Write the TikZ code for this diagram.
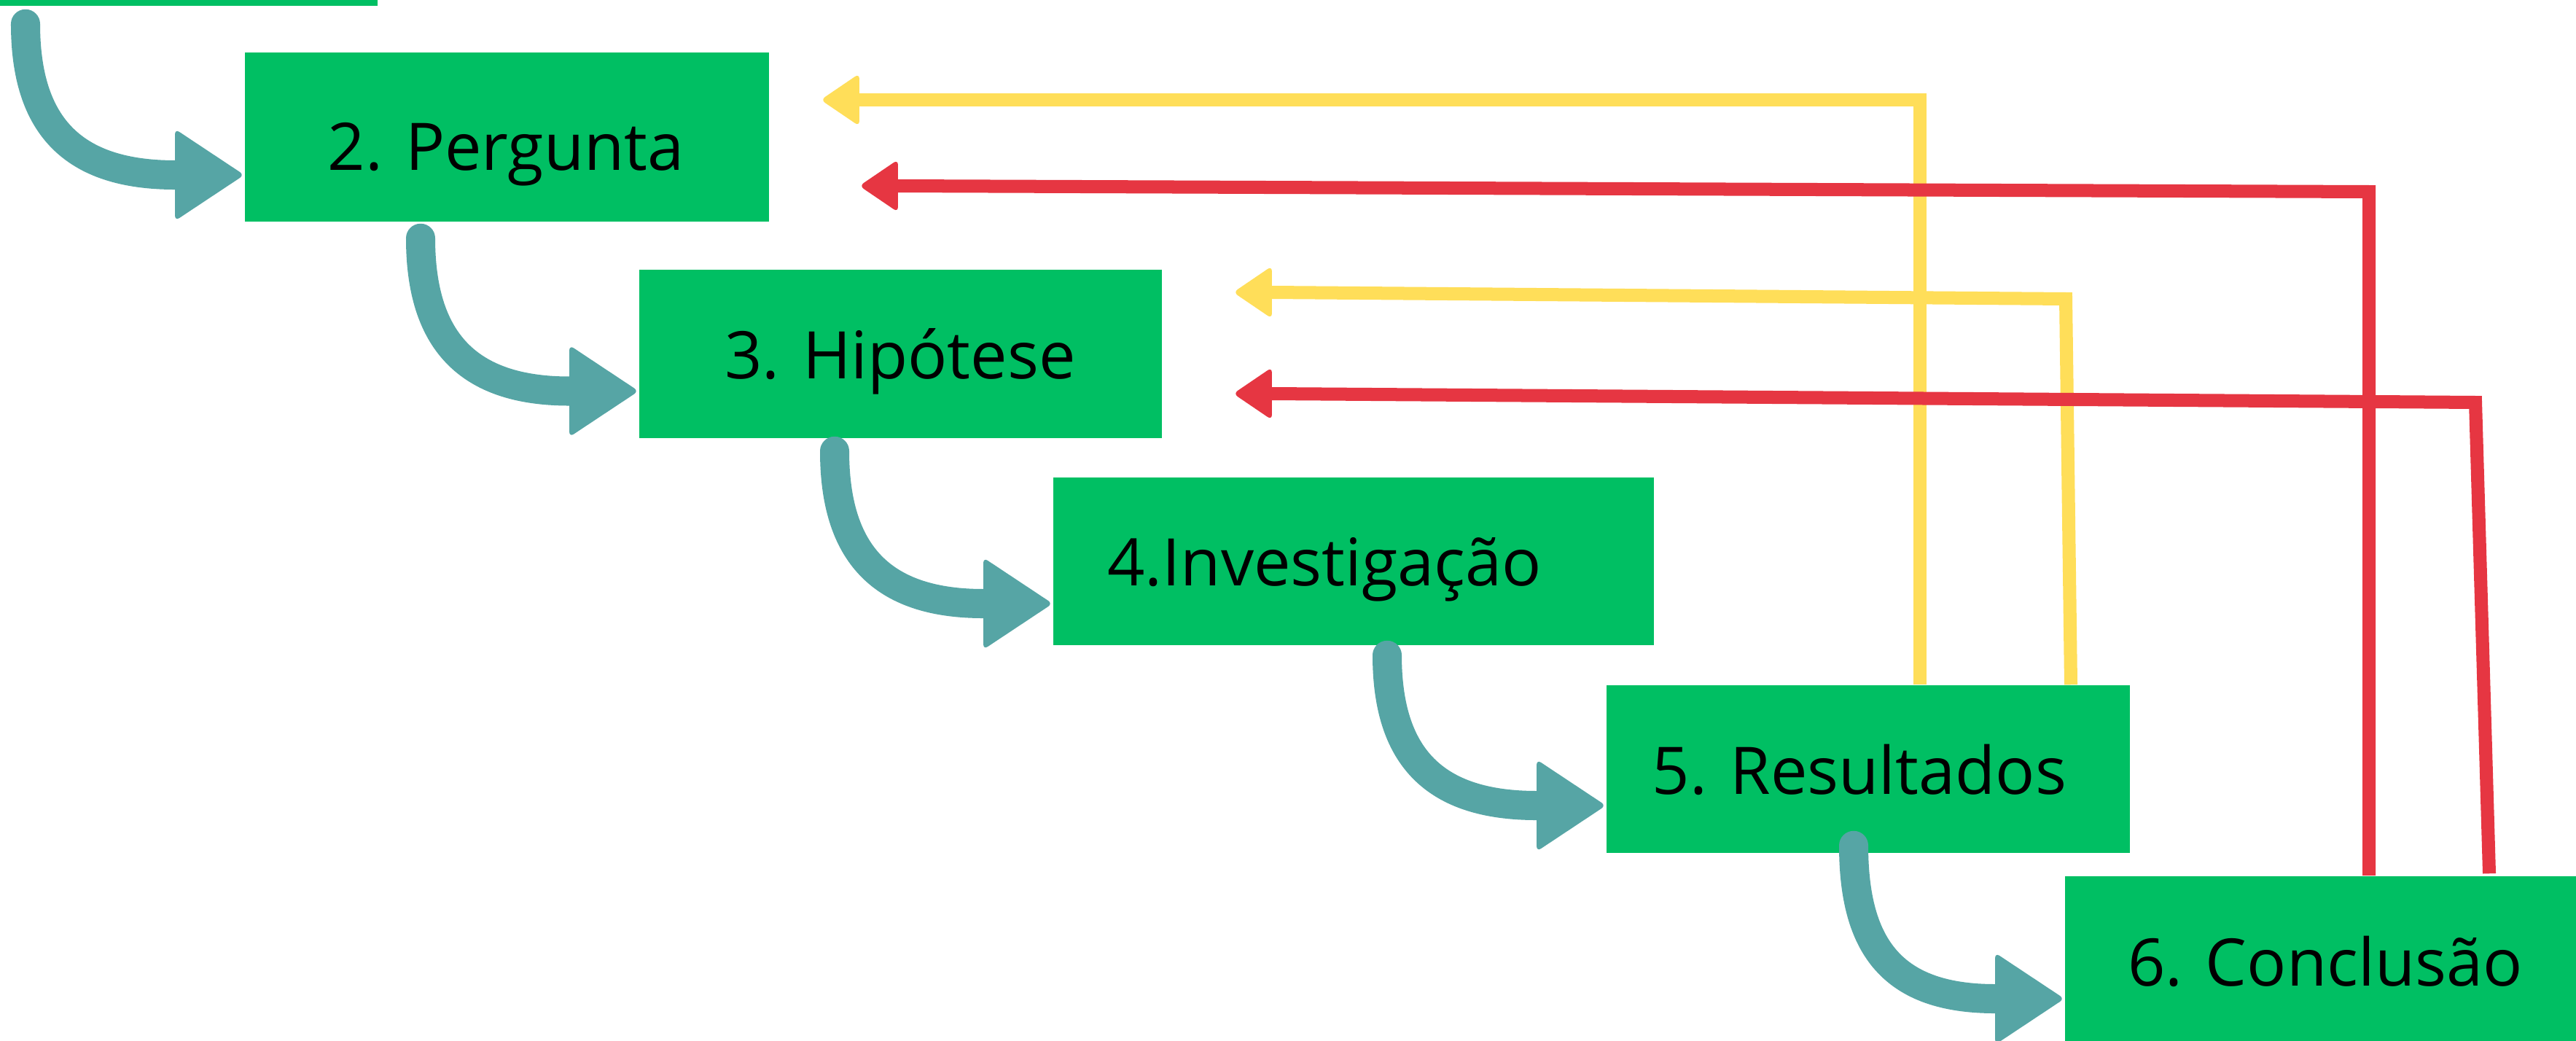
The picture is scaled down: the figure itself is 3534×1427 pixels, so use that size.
\documentclass[tikz,border=0pt]{standalone}
\usepackage{fontspec}
\setmainfont{Open Sans}
\usetikzlibrary{calc}
\definecolor{boxgreen}{HTML}{00BF63}
\definecolor{arrowteal}{HTML}{56A5A5}
\definecolor{fbyellow}{HTML}{FFDE59}
\definecolor{fbred}{HTML}{E63642}
% #1 colour, #2 tip coordinate, #3 signed x offset of the base, #4 half height
\newcommand{\headshape}[4]{\fill[#1, rounded corners=0.07cm] ($(#2)+(#3,-#4)$) -- (#2) -- ($(#2)+(#3,#4)$) -- cycle;}
\begin{document}
\begin{tikzpicture}[x=0.01cm, y=-0.01cm,
  box/.style={rectangle, fill=boxgreen, draw=none, inner sep=0pt},
  lbl/.style={anchor=base, inner sep=0pt, font=\fontsize{25.6pt}{30pt}\selectfont},
  shaft/.style={draw=arrowteal, line width=0.4cm, line cap=round},
  yelline/.style={draw=fbyellow, line width=0.18cm, line join=miter},
  redline/.style={draw=fbred, line width=0.18cm, line join=miter}]
\useasboundingbox (0,0) rectangle (3534,1427);
\fill[white] (0,0) rectangle (3534,1427);
\clip (0,0) rectangle (3534,1427);

% boxes
\node[box, minimum width=7.18cm, minimum height=2.30cm] (b1) at (159,-107) {};
\node[box, minimum width=7.19cm, minimum height=2.32cm] (b2) at (695.5,188) {};
\node[box, minimum width=7.17cm, minimum height=2.31cm] (b3) at (1235.5,485.5) {};
\node[box, minimum width=8.24cm, minimum height=2.30cm] (b4) at (1857,770) {};
\node[box, minimum width=7.18cm, minimum height=2.30cm] (b5) at (2563,1055) {};
\node[box, minimum width=7.18cm, minimum height=2.30cm] (b6) at (3192,1317) {};

% labels
\node[lbl] (t2) at (694,233) {2. Pergunta};
\node[lbl] (t3) at (1235,519) {3. Hipótese};
\node[lbl] (t4) at (1817,803) {4.Investigação};
\node[lbl] (t5) at (2551,1089) {5. Resultados};
\node[lbl] (t6) at (3190,1352) {6. Conclusão};

% teal step arrows
\coordinate (s1) at ($(b1.south)+(-124,24)$);
\coordinate (s2) at ($(b2.south)+(-118.5,22)$);
\coordinate (s3) at ($(b3.south)+(-90.5,17)$);
\coordinate (s4) at ($(b4.south)+(46,13)$);
\coordinate (s5) at ($(b5.south)+(-20,-11)$);
\coordinate (p1) at ($(b2.west)+(0,52)$);
\coordinate (p2) at ($(b3.west)+(0,51)$);
\coordinate (p3) at ($(b4.west)+(0,58)$);
\coordinate (p4) at ($(b5.west)+(0,50)$);
\coordinate (p5) at ($(b6.west)+(0,53)$);
\foreach \s/\p in {s1/p1, s2/p2, s3/p3, s4/p4, s5/p5} {
  \draw[shaft] (\s) .. controls +(0,140) and +(-140,0) .. ($(\p)+(-95,0)$);
  \headshape{arrowteal}{\p}{-95}{63}
}

% feedback lines, yellow
\coordinate (y1s) at ($(b5.north)+(71,0)$);
\coordinate (y1t) at ($(b2.east)+(70,-51)$);
\coordinate (y2s) at ($(b5.north)+(278,0)$);
\coordinate (y2c) at (2834,410);
\coordinate (y2t) at ($(b3.east)+(97,-84.5)$);
\draw[yelline] (y1s) |- ($(y1t)+(53,0)$);
\headshape{fbyellow}{y1t}{53}{36}
\draw[yelline] (y2s) -- (y2c) -- ($(y2t)+(53,0)$);
\headshape{fbyellow}{y2t}{53}{36}

% feedback lines, red
\coordinate (r1s) at ($(b6.north)+(58,0)$);
\coordinate (r1c) at (3250,263);
\coordinate (r1t) at ($(b2.east)+(123,67)$);
\coordinate (r2s) at ($(b6.north)+(223,-3)$);
\coordinate (r2c) at (3396,552);
\coordinate (r2t) at ($(b3.east)+(97,54.5)$);
\draw[redline] (r1s) -- (r1c) -- ($(r1t)+(53,0)$);
\headshape{fbred}{r1t}{53}{36}
\draw[redline] (r2s) -- (r2c) -- ($(r2t)+(53,0)$);
\headshape{fbred}{r2t}{53}{36}
\end{tikzpicture}
\end{document}
